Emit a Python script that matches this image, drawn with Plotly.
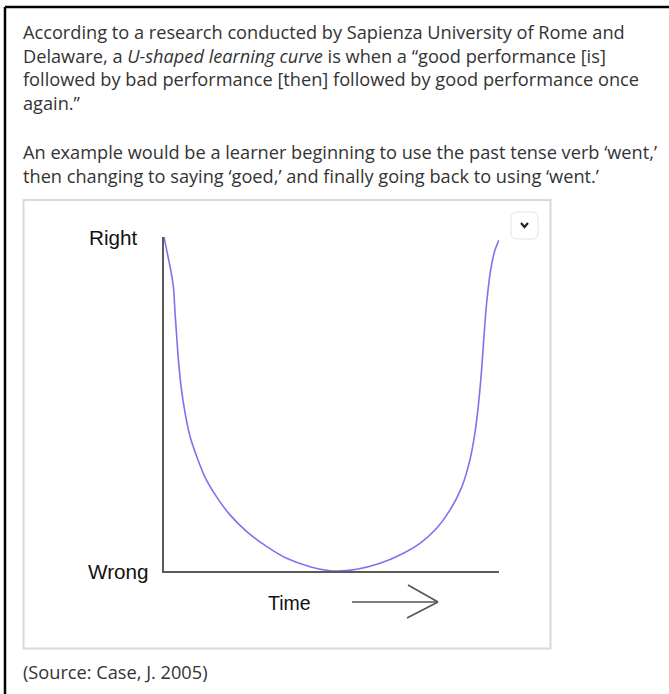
import plotly.graph_objects as go

# text of the page
para_1 = [
    "According to a research conducted by Sapienza University of Rome and",
    "Delaware, a <i>U-shaped learning curve</i> is when a \u201cgood performance [is]",
    "followed by bad performance [then] followed by good performance once",
    "again.\u201d",
]
para_2 = [
    "An example would be a learner beginning to use the past tense verb \u2018went,\u2019",
    "then changing to saying \u2018goed,\u2019 and finally going back to using \u2018went.\u2019",
]
source = "(Source: Case, J. 2005)"

# the U-shaped curve (time 0..1, performance 0 = wrong, 1 = right)
time = [0.0, 0.010, 0.020, 0.028, 0.033, 0.038, 0.043, 0.051, 0.063, 0.078,
        0.098, 0.122, 0.157, 0.197, 0.247, 0.307, 0.366, 0.436, 0.505,
        0.575, 0.645, 0.704, 0.764, 0.814, 0.854, 0.889, 0.913, 0.928, 0.938,
        0.948, 0.955, 0.963, 0.975, 0.988, 1.0]
performance = [1.0, 0.951, 0.901, 0.851, 0.772, 0.701, 0.632, 0.552, 0.473, 0.402,
               0.342, 0.282, 0.222, 0.168, 0.118, 0.073, 0.038, 0.013, 0.0,
               0.005, 0.023, 0.048, 0.083, 0.128, 0.183, 0.252, 0.332, 0.412, 0.492,
               0.602, 0.701, 0.801, 0.901, 0.961, 0.991]
y_labels = ["Wrong", "Right"]
x_label = "Time"

W, H = 669, 694
TEXT_FONT = dict(family="Open Sans, Noto Sans, sans-serif", size=18.2, color="#333333")
LABEL_FONT = dict(family="Liberation Sans, Arial, sans-serif", size=20.7, color="#111111")
TIME_FONT = dict(family="Liberation Sans, Arial, sans-serif", size=19.5, color="#111111")

fig = go.Figure()

fig.add_trace(go.Scatter(
    x=time, y=performance, xaxis="x2", yaxis="y2",
    mode="lines", line=dict(color="#7b74ee", width=1.6, shape="spline", smoothing=1.0),
    hoverinfo="skip", showlegend=False,
))

# page axes in pixels, used for the layout of text and boxes
fig.update_layout(
    width=W, height=H,
    margin=dict(l=0, r=0, t=0, b=0),
    paper_bgcolor="white", plot_bgcolor="rgba(0,0,0,0)",
    xaxis=dict(range=[0, W], visible=False, domain=[0, 1], fixedrange=True),
    yaxis=dict(range=[H, 0], visible=False, domain=[0, 1], fixedrange=True),
    xaxis2=dict(range=[0, 1], domain=[164 / W, 499 / W], anchor="y2",
                showline=True, linecolor="#5a5a5a", linewidth=2,
                showgrid=False, zeroline=False, showticklabels=False, ticks=""),
    yaxis2=dict(range=[0, 1], domain=[1 - 571 / H, 1 - 237 / H], anchor="x2",
                showline=True, linecolor="#5a5a5a", linewidth=2,
                showgrid=False, zeroline=False, showticklabels=False, ticks=""),
    showlegend=False,
)

shapes = [
    # outer page frame (top and left edges)
    dict(type="line", x0=5, y0=7, x1=W, y1=7, line=dict(color="black", width=2.5)),
    dict(type="line", x0=5, y0=7, x1=5, y1=H, line=dict(color="black", width=2.5)),
    # image box
    dict(type="rect", x0=23.5, y0=200, x1=550.5, y1=648.5,
         line=dict(color="#d9d9d9", width=2), fillcolor="rgba(0,0,0,0)"),
    # dropdown button
    dict(type="path",
         path="M 517,212 L 532,212 Q 538,212 538,218 L 538,233 Q 538,239 532,239 "
              "L 517,239 Q 511,239 511,233 L 511,218 Q 511,212 517,212 Z",
         line=dict(color="#e2e2e2", width=1), fillcolor="white"),
    dict(type="path", path="M 521,223 L 524.5,227 L 528,223",
         line=dict(color="#222222", width=2.2)),
    # time arrow
    dict(type="line", x0=352, y0=602, x1=438, y1=602, line=dict(color="#555555", width=1.6)),
    dict(type="line", x0=408, y0=585, x1=438, y1=602, line=dict(color="#555555", width=1.6)),
    dict(type="line", x0=407, y0=618, x1=438, y1=602, line=dict(color="#555555", width=1.6)),
]
for s in shapes:
    s.update(xref="x", yref="y", layer="above")
fig.update_layout(shapes=shapes)

annotations = []
for i, line in enumerate(para_1):
    annotations.append(dict(x=21, y=32 + 23.7 * i, text=line, font=TEXT_FONT))
for i, line in enumerate(para_2):
    annotations.append(dict(x=21, y=152 + 23.7 * i, text=line, font=TEXT_FONT))
annotations.append(dict(x=21, y=672, text=source, font=TEXT_FONT))
annotations.append(dict(x=87, y=237, text=y_labels[1], font=LABEL_FONT))
annotations.append(dict(x=86, y=571, text=y_labels[0], font=LABEL_FONT))
annotations.append(dict(x=266, y=603, text=x_label, font=TIME_FONT))
for a in annotations:
    a.update(xref="x", yref="y", xanchor="left", yanchor="middle", showarrow=False)
fig.update_layout(annotations=annotations)

fig.write_html("out.html", config={"displayModeBar": False},
               post_script="document.body.style.margin = '0';")
